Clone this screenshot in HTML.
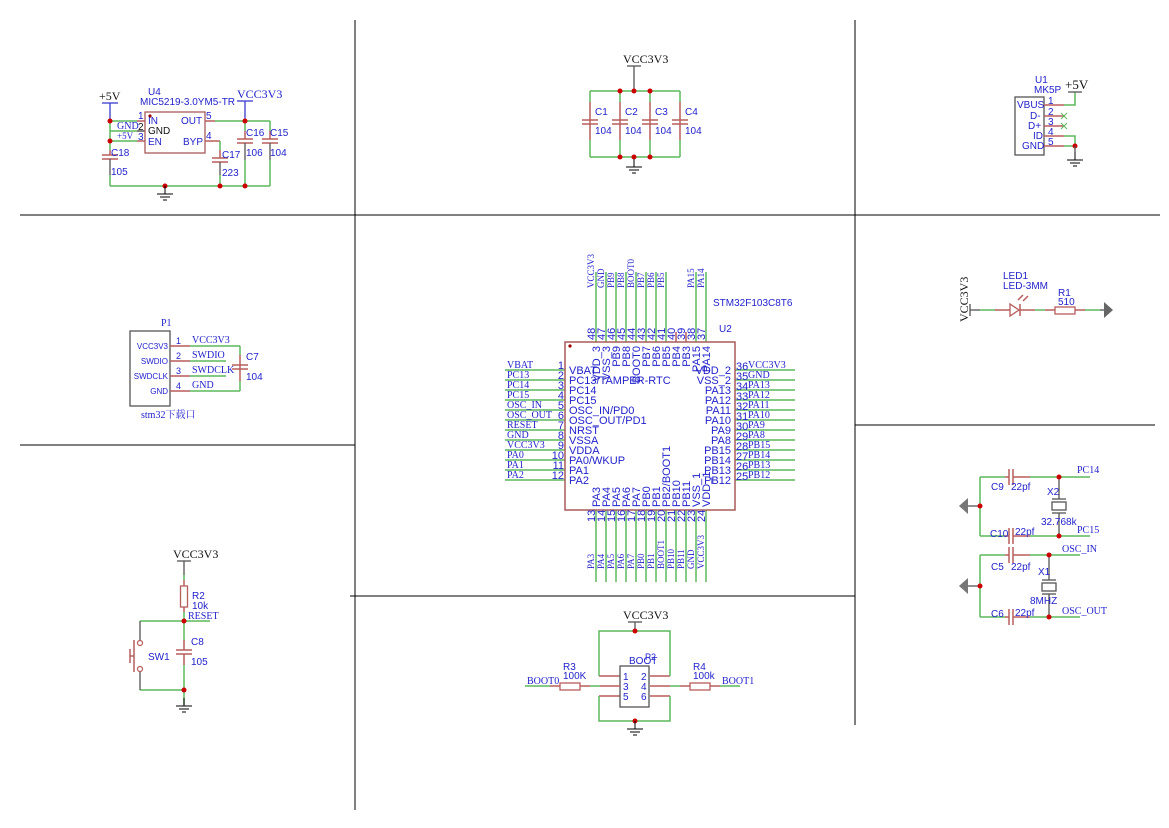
<!DOCTYPE html>
<html><head><meta charset="utf-8"><style>
html,body{margin:0;padding:0;background:#fff}
svg{display:block}
.g{stroke:#5cb85c;stroke-width:1.5;fill:none}
.r{stroke:#b85c5c;stroke-width:1.5;fill:none}
.k{stroke:#000;stroke-width:1;fill:none}
.d{stroke:#555;stroke-width:1.3;fill:none}
.bl{stroke:#3a3ad0;stroke-width:1.3;fill:none}
text{font-family:"Liberation Sans",sans-serif;font-size:10px;fill:#2222cc}
.s{font-family:"Liberation Serif",serif;font-size:10px;fill:#2222cc}
.bk{font-family:"Liberation Serif",serif;font-size:12px;fill:#111}
.n{font-size:11px}
.dot{fill:#cc0000}
</style></head><body>
<svg width="1169" height="828" viewBox="0 0 1169 828" xmlns="http://www.w3.org/2000/svg">
<defs>
<g id="gnd"><line class="k" x1="0" y1="0" x2="0" y2="8" stroke="#555"/><line class="k" x1="-8" y1="8" x2="8" y2="8"/><line class="k" x1="-5" y1="11" x2="5" y2="11"/><line class="k" x1="-2" y1="14" x2="2" y2="14"/></g>
</defs>
<!-- frame -->
<g class="k">
<line x1="355" y1="20" x2="355" y2="810"/>
<line x1="855" y1="20" x2="855" y2="725"/>
<line x1="20" y1="215" x2="1160" y2="215"/>
<line x1="20" y1="445" x2="355" y2="445"/>
<line x1="855" y1="425" x2="1155" y2="425"/>
<line x1="350" y1="596" x2="855" y2="596"/>
</g>

<!-- U4 regulator -->
<text class="bk" x="99" y="100">+5V</text>
<line class="bl" x1="102" y1="103" x2="118" y2="103"/><line class="bl" x1="110" y1="103" x2="110" y2="121"/>
<polyline class="g" points="110,121 110,141"/>
<line class="g" x1="110" y1="121" x2="137" y2="121"/><line class="r" x1="137" y1="121" x2="145" y2="121"/>
<line class="g" x1="110" y1="131" x2="137" y2="131"/><line class="k" x1="137" y1="131" x2="145" y2="131"/>
<line class="g" x1="110" y1="141" x2="137" y2="141"/><line class="r" x1="137" y1="141" x2="145" y2="141"/>
<line class="g" x1="110" y1="141" x2="110" y2="150"/><line class="r" x1="110" y1="150" x2="110" y2="155"/>
<line class="r" x1="102" y1="155" x2="118" y2="155"/><line class="r" x1="102" y1="159" x2="118" y2="159"/>
<line class="d" x1="110" y1="159" x2="110" y2="175"/><line class="g" x1="110" y1="175" x2="110" y2="186"/>
<line class="g" x1="110" y1="186" x2="270" y2="186"/>
<text x="111" y="156">C18</text><text x="111" y="175">105</text>
<text x="117" y="129" class="s">GND</text><text x="117" y="139" class="s" style="font-size:9px">+5V</text>
<text x="138" y="119">1</text><text x="138" y="130" style="fill:#111">2</text><text x="138" y="140">3</text>
<rect x="145" y="112" width="60" height="41" fill="#fff" stroke="#a85a5a" stroke-width="1.3"/>
<circle cx="150" cy="116" r="1.6" fill="#990000"/>
<text x="148" y="95">U4</text><text x="140" y="105">MIC5219-3.0YM5-TR</text>
<text x="148" y="124">IN</text><text x="148" y="134" style="fill:#111">GND</text><text x="148" y="145">EN</text>
<text x="181" y="124">OUT</text><text x="183" y="145">BYP</text>
<text x="206" y="119">5</text><text x="206" y="139">4</text>
<line class="r" x1="205" y1="121" x2="215" y2="121"/><line class="g" x1="215" y1="121" x2="270" y2="121"/>
<line class="r" x1="205" y1="141" x2="220" y2="141"/><line class="g" x1="220" y1="141" x2="220" y2="150"/>
<line class="r" x1="220" y1="150" x2="220" y2="158"/><line class="r" x1="212" y1="158" x2="228" y2="158"/><line class="r" x1="212" y1="162" x2="228" y2="162"/>
<line class="d" x1="220" y1="162" x2="220" y2="175"/><line class="g" x1="220" y1="175" x2="220" y2="186"/>
<text x="222" y="158">C17</text><text x="222" y="176">223</text>
<text class="s" x="237" y="98" style="font-size:12px">VCC3V3</text>
<line class="bl" x1="237" y1="101" x2="253" y2="101"/><line class="bl" x1="245" y1="101" x2="245" y2="121"/>
<line class="g" x1="245" y1="121" x2="245" y2="131"/><line class="r" x1="245" y1="131" x2="245" y2="139"/>
<line class="r" x1="237" y1="139" x2="253" y2="139"/><line class="r" x1="237" y1="143" x2="253" y2="143"/>
<line class="d" x1="245" y1="143" x2="245" y2="160"/><line class="g" x1="245" y1="160" x2="245" y2="186"/>
<line class="g" x1="270" y1="121" x2="270" y2="131"/><line class="r" x1="270" y1="131" x2="270" y2="139"/>
<line class="r" x1="262" y1="139" x2="278" y2="139"/><line class="r" x1="262" y1="143" x2="278" y2="143"/>
<line class="d" x1="270" y1="143" x2="270" y2="160"/><line class="g" x1="270" y1="160" x2="270" y2="186"/>
<text x="246" y="136">C16</text><text x="270" y="136">C15</text><text x="246" y="156">106</text><text x="270" y="156">104</text>
<circle class="dot" cx="110" cy="121" r="2.5"/><circle class="dot" cx="110" cy="141" r="2.5"/><circle class="dot" cx="245" cy="121" r="2.5"/>
<circle class="dot" cx="165" cy="186" r="2.5"/><circle class="dot" cx="220" cy="186" r="2.5"/><circle class="dot" cx="245" cy="186" r="2.5"/>
<use href="#gnd" x="165" y="186"/>

<!-- top caps -->
<text class="bk" x="623" y="63">VCC3V3</text>
<line class="d" x1="627" y1="66" x2="641" y2="66"/><line class="d" x1="634" y1="66" x2="634" y2="91"/>
<line class="g" x1="590" y1="91" x2="680" y2="91"/><line class="g" x1="590" y1="157" x2="680" y2="157"/>
<g>
<line class="g" x1="590" y1="91" x2="590" y2="102"/><line class="r" x1="590" y1="102" x2="590" y2="140"/><line class="g" x1="590" y1="140" x2="590" y2="157"/>
<line class="r" x1="582" y1="120" x2="598" y2="120"/><line class="r" x1="582" y1="124" x2="598" y2="124"/>
<line class="g" x1="620" y1="91" x2="620" y2="102"/><line class="r" x1="620" y1="102" x2="620" y2="140"/><line class="g" x1="620" y1="140" x2="620" y2="157"/>
<line class="r" x1="612" y1="120" x2="628" y2="120"/><line class="r" x1="612" y1="124" x2="628" y2="124"/>
<line class="g" x1="650" y1="91" x2="650" y2="102"/><line class="r" x1="650" y1="102" x2="650" y2="140"/><line class="g" x1="650" y1="140" x2="650" y2="157"/>
<line class="r" x1="642" y1="120" x2="658" y2="120"/><line class="r" x1="642" y1="124" x2="658" y2="124"/>
<line class="g" x1="680" y1="91" x2="680" y2="102"/><line class="r" x1="680" y1="102" x2="680" y2="140"/><line class="g" x1="680" y1="140" x2="680" y2="157"/>
<line class="r" x1="672" y1="120" x2="688" y2="120"/><line class="r" x1="672" y1="124" x2="688" y2="124"/>
</g>
<text x="595" y="115">C1</text><text x="625" y="115">C2</text><text x="655" y="115">C3</text><text x="685" y="115">C4</text>
<text x="595" y="134">104</text><text x="625" y="134">104</text><text x="655" y="134">104</text><text x="685" y="134">104</text>
<circle class="dot" cx="620" cy="91" r="2.5"/><circle class="dot" cx="634" cy="91" r="2.5"/><circle class="dot" cx="650" cy="91" r="2.5"/>
<circle class="dot" cx="620" cy="157" r="2.5"/><circle class="dot" cx="634" cy="157" r="2.5"/><circle class="dot" cx="650" cy="157" r="2.5"/>
<use href="#gnd" x="634" y="159"/>

<!-- USB -->
<text x="1035" y="83">U1</text><text x="1034" y="93">MK5P</text>
<rect x="1015" y="97" width="29" height="58" fill="#fff" stroke="#555" stroke-width="1.3"/>
<text x="1017" y="108">VBUS</text><text x="1030" y="119">D-</text><text x="1028" y="129">D+</text><text x="1033" y="139">ID</text><text x="1022" y="149">GND</text>
<text x="1048" y="104">1</text><text x="1048" y="115">2</text><text x="1048" y="125">3</text><text x="1048" y="135">4</text><text x="1048" y="145">5</text>
<line class="r" x1="1044" y1="105" x2="1064" y2="105"/><polyline class="g" points="1064,105 1075,105 1075,92"/>
<line class="d" x1="1068" y1="92" x2="1082" y2="92"/><text class="bk" x="1065" y="89" style="font-size:13px">+5V</text>
<line class="r" x1="1044" y1="116" x2="1064" y2="116"/><line class="r" x1="1044" y1="126" x2="1064" y2="126"/>
<g stroke="#5cb85c" stroke-width="1"><line x1="1061" y1="113" x2="1067" y2="119"/><line x1="1067" y1="113" x2="1061" y2="119"/><line x1="1061" y1="123" x2="1067" y2="129"/><line x1="1067" y1="123" x2="1061" y2="129"/></g>
<line class="r" x1="1044" y1="136" x2="1064" y2="136"/><polyline class="g" points="1064,136 1075,136 1075,146"/>
<line class="r" x1="1044" y1="146" x2="1064" y2="146"/><line class="g" x1="1064" y1="146" x2="1075" y2="146"/>
<circle class="dot" cx="1075" cy="146" r="2.5"/><use href="#gnd" x="1075" y="152"/><line class="d" x1="1075" y1="146" x2="1075" y2="152"/>

<!-- LED -->
<text class="bk" transform="translate(968,322) rotate(-90)">VCC3V3</text>
<line class="d" x1="970" y1="304" x2="970" y2="316"/><line class="d" x1="970" y1="310" x2="980" y2="310"/>
<line class="g" x1="980" y1="310" x2="995" y2="310"/><line class="r" x1="995" y1="310" x2="1010" y2="310"/>
<polygon points="1010,304 1010,316 1019,310" fill="none" stroke="#b85c5c" stroke-width="1.3"/><line class="r" x1="1020" y1="304" x2="1020" y2="316"/>
<line class="r" x1="1020" y1="310" x2="1035" y2="310"/><line class="g" x1="1035" y1="310" x2="1045" y2="310"/><line class="r" x1="1045" y1="310" x2="1055" y2="310"/>
<rect x="1055" y="307" width="20" height="7" fill="none" stroke="#b85c5c" stroke-width="1.3"/>
<line class="r" x1="1075" y1="310" x2="1085" y2="310"/><line class="g" x1="1085" y1="310" x2="1100" y2="310"/><line class="d" x1="1100" y1="310" x2="1104" y2="310"/>
<polygon points="1104,302 1104,318 1113,310" fill="#666"/>
<line class="r" x1="1018" y1="300" x2="1023" y2="295"/><line class="r" x1="1023" y1="301" x2="1028" y2="296"/>
<text x="1003" y="279">LED1</text><text x="1003" y="289">LED-3MM</text><text x="1058" y="296">R1</text><text x="1058" y="305">510</text>

<!-- Crystals -->
<g>
<line class="g" x1="980" y1="477" x2="1005" y2="477"/><line class="r" x1="1005" y1="477" x2="1009" y2="477"/><line class="r" x1="1013" y1="477" x2="1030" y2="477"/><line class="g" x1="1030" y1="477" x2="1090" y2="477"/>
<line class="r" x1="1009" y1="469" x2="1009" y2="485"/><line class="r" x1="1013" y1="469" x2="1013" y2="485"/>
<line class="g" x1="980" y1="536" x2="1005" y2="536"/><line class="r" x1="1005" y1="536" x2="1009" y2="536"/><line class="r" x1="1013" y1="536" x2="1030" y2="536"/><line class="g" x1="1030" y1="536" x2="1090" y2="536"/>
<line class="r" x1="1009" y1="528" x2="1009" y2="544"/><line class="r" x1="1013" y1="528" x2="1013" y2="544"/>
<line class="g" x1="980" y1="477" x2="980" y2="536"/>
<line class="d" x1="1059" y1="477" x2="1059" y2="499"/><line class="d" x1="1052" y1="499" x2="1066" y2="499"/><rect x="1052" y="502" width="14" height="8" fill="none" stroke="#555" stroke-width="1.3"/><line class="d" x1="1052" y1="513" x2="1066" y2="513"/><line class="d" x1="1059" y1="513" x2="1059" y2="536"/>
<line class="d" x1="968" y1="506" x2="980" y2="506"/><polygon points="968,498 968,514 959,506" fill="#777"/>
<circle class="dot" cx="980" cy="506" r="2.5"/><circle class="dot" cx="1059" cy="477" r="2.5"/><circle class="dot" cx="1059" cy="536" r="2.5"/>
<text class="s" x="1077" y="473">PC14</text><text class="s" x="1077" y="533">PC15</text>
<text x="991" y="490">C9</text><text x="1011" y="490">22pf</text><text x="1047" y="495">X2</text><text x="1041" y="525">32.768k</text><text x="990" y="537">C10</text><text x="1015" y="535">22pf</text>
</g>
<g>
<line class="g" x1="980" y1="555" x2="1005" y2="555"/><line class="r" x1="1005" y1="555" x2="1009" y2="555"/><line class="r" x1="1013" y1="555" x2="1030" y2="555"/><line class="g" x1="1030" y1="555" x2="1080" y2="555"/>
<line class="r" x1="1009" y1="547" x2="1009" y2="563"/><line class="r" x1="1013" y1="547" x2="1013" y2="563"/>
<line class="g" x1="980" y1="617" x2="1005" y2="617"/><line class="r" x1="1005" y1="617" x2="1009" y2="617"/><line class="r" x1="1013" y1="617" x2="1030" y2="617"/><line class="g" x1="1030" y1="617" x2="1080" y2="617"/>
<line class="r" x1="1009" y1="609" x2="1009" y2="625"/><line class="r" x1="1013" y1="609" x2="1013" y2="625"/>
<line class="g" x1="980" y1="555" x2="980" y2="617"/>
<line class="d" x1="1049" y1="555" x2="1049" y2="580"/><line class="d" x1="1042" y1="580" x2="1056" y2="580"/><rect x="1042" y="583" width="14" height="8" fill="none" stroke="#555" stroke-width="1.3"/><line class="d" x1="1042" y1="594" x2="1056" y2="594"/><line class="d" x1="1049" y1="594" x2="1049" y2="617"/>
<line class="d" x1="968" y1="586" x2="980" y2="586"/><polygon points="968,578 968,594 959,586" fill="#777"/>
<circle class="dot" cx="980" cy="586" r="2.5"/><circle class="dot" cx="1049" cy="555" r="2.5"/><circle class="dot" cx="1049" cy="617" r="2.5"/>
<text class="s" x="1062" y="552">OSC_IN</text><text class="s" x="1062" y="614">OSC_OUT</text>
<text x="991" y="570">C5</text><text x="1011" y="570">22pf</text><text x="1038" y="575">X1</text><text x="1030" y="604">8MHZ</text><text x="991" y="617">C6</text><text x="1015" y="616">22pf</text>
</g>

<!-- BOOT -->
<text class="bk" x="623" y="619">VCC3V3</text>
<line class="d" x1="628" y1="622" x2="642" y2="622"/><line class="d" x1="635" y1="622" x2="635" y2="631"/>
<polyline class="g" points="599,669 599,631 670,631 670,669"/>
<line class="r" x1="599" y1="676" x2="620" y2="676"/><line class="r" x1="650" y1="676" x2="670" y2="676"/>
<line class="g" x1="599" y1="669" x2="599" y2="676"/><line class="g" x1="670" y1="669" x2="670" y2="676"/>
<line class="r" x1="599" y1="696" x2="620" y2="696"/><line class="r" x1="650" y1="696" x2="670" y2="696"/>
<polyline class="g" points="599,696 599,721 670,721 670,696"/>
<circle class="dot" cx="635" cy="631" r="2.5"/><circle class="dot" cx="635" cy="721" r="2.5"/>
<use href="#gnd" x="635" y="721"/>
<rect x="620" y="666" width="29" height="41" fill="#fff" stroke="#555" stroke-width="1.3"/>
<text x="629" y="664">BOOT</text><text x="645" y="660" style="font-size:9px">P2</text>
<text x="623" y="680">1</text><text x="641" y="680">2</text><text x="623" y="690">3</text><text x="641" y="690">4</text><text x="623" y="700">5</text><text x="641" y="700">6</text>
<line class="g" x1="525" y1="686" x2="550" y2="686"/><line class="r" x1="550" y1="686" x2="560" y2="686"/>
<rect x="560" y="683" width="20" height="7" fill="none" stroke="#b85c5c" stroke-width="1.3"/>
<line class="r" x1="580" y1="686" x2="590" y2="686"/><line class="g" x1="590" y1="686" x2="600" y2="686"/><line class="r" x1="600" y1="686" x2="620" y2="686"/>
<line class="r" x1="650" y1="686" x2="670" y2="686"/><line class="g" x1="670" y1="686" x2="680" y2="686"/><line class="r" x1="680" y1="686" x2="690" y2="686"/>
<rect x="690" y="683" width="20" height="7" fill="none" stroke="#b85c5c" stroke-width="1.3"/>
<line class="r" x1="710" y1="686" x2="720" y2="686"/><line class="g" x1="720" y1="686" x2="740" y2="686"/>
<text x="563" y="670">R3</text><text x="563" y="679">100K</text><text x="693" y="670">R4</text><text x="693" y="679">100k</text>
<text class="s" x="527" y="684">BOOT0</text><text class="s" x="722" y="684">BOOT1</text>

<!-- P1 -->
<text class="s" x="161" y="326">P1</text>
<rect x="130" y="331" width="40" height="75" fill="#fff" stroke="#555" stroke-width="1.3"/>
<g style="font-size:8px"><text x="168" y="349" text-anchor="end" style="font-size:8px">VCC3V3</text><text x="168" y="364" text-anchor="end" style="font-size:8px">SWDIO</text><text x="168" y="379" text-anchor="end" style="font-size:8px">SWDCLK</text><text x="168" y="394" text-anchor="end" style="font-size:8px">GND</text></g>
<text x="176" y="344" style="font-size:9px">1</text><text x="176" y="359" style="font-size:9px">2</text><text x="176" y="374" style="font-size:9px">3</text><text x="176" y="389" style="font-size:9px">4</text>
<line class="r" x1="170" y1="346" x2="190" y2="346"/><line class="g" x1="190" y1="346" x2="240" y2="346"/>
<line class="r" x1="170" y1="361" x2="190" y2="361"/><line class="g" x1="190" y1="361" x2="226" y2="361"/>
<line class="r" x1="170" y1="376" x2="190" y2="376"/><line class="g" x1="190" y1="376" x2="226" y2="376"/>
<line class="r" x1="170" y1="391" x2="190" y2="391"/><line class="g" x1="190" y1="391" x2="240" y2="391"/>
<line class="g" x1="240" y1="346" x2="240" y2="355"/><line class="r" x1="240" y1="355" x2="240" y2="381"/><line class="g" x1="240" y1="381" x2="240" y2="391"/>
<line class="r" x1="232" y1="365" x2="248" y2="365"/><line class="r" x1="232" y1="369" x2="248" y2="369"/>
<text class="s" x="192" y="343">VCC3V3</text><text class="s" x="192" y="358">SWDIO</text><text class="s" x="192" y="373">SWDCLK</text><text class="s" x="192" y="388">GND</text>
<text x="246" y="360">C7</text><text x="246" y="380">104</text>
<text x="141" y="418" style="font-family:'Liberation Serif','Noto Serif CJK SC',serif;font-size:10px">stm32下载口</text>

<!-- Reset -->
<text class="bk" x="173" y="558">VCC3V3</text>
<line class="d" x1="177" y1="561" x2="191" y2="561"/><line class="d" x1="184" y1="561" x2="184" y2="575"/>
<line class="g" x1="184" y1="575" x2="184" y2="580"/><line class="r" x1="184" y1="580" x2="184" y2="586"/>
<rect x="180.5" y="586" width="7" height="21" fill="none" stroke="#b85c5c" stroke-width="1.3"/>
<line class="r" x1="184" y1="607" x2="184" y2="612"/><line class="g" x1="184" y1="612" x2="184" y2="640"/>
<line class="r" x1="184" y1="640" x2="184" y2="650"/>
<line class="r" x1="176" y1="650" x2="192" y2="650"/><line class="r" x1="176" y1="654" x2="192" y2="654"/>
<line class="r" x1="184" y1="654" x2="184" y2="665"/><line class="g" x1="184" y1="665" x2="184" y2="705"/>
<line class="g" x1="140" y1="621" x2="210" y2="621"/><line class="g" x1="140" y1="690" x2="184" y2="690"/>
<line class="d" x1="140" y1="621" x2="140" y2="640"/><line class="d" x1="140" y1="672" x2="140" y2="690"/>
<circle cx="140" cy="643" r="2.5" fill="none" stroke="#b85c5c" stroke-width="1.2"/><circle cx="140" cy="669" r="2.5" fill="none" stroke="#b85c5c" stroke-width="1.2"/>
<line class="r" x1="134" y1="640" x2="134" y2="672"/><line class="r" x1="130" y1="649" x2="130" y2="663"/><line class="r" x1="130" y1="656" x2="134" y2="656"/>
<circle class="dot" cx="184" cy="621" r="2.5"/><circle class="dot" cx="184" cy="690" r="2.5"/>
<use href="#gnd" x="184" y="698"/>
<text x="192" y="599">R2</text><text x="192" y="609">10k</text><text class="s" x="188" y="619">RESET</text>
<text x="191" y="645">C8</text><text x="191" y="665">105</text><text x="148" y="660">SW1</text>

<!-- STM32 -->
<text x="713" y="306">STM32F103C8T6</text><text x="719" y="332">U2</text>
<g>
<g class="g">
<line x1="505" y1="370" x2="565" y2="370"/><line x1="505" y1="380" x2="565" y2="380"/><line x1="505" y1="390" x2="565" y2="390"/><line x1="505" y1="400" x2="565" y2="400"/><line x1="505" y1="410" x2="565" y2="410"/><line x1="505" y1="420" x2="565" y2="420"/><line x1="505" y1="430" x2="565" y2="430"/><line x1="505" y1="440" x2="565" y2="440"/><line x1="505" y1="450" x2="565" y2="450"/><line x1="505" y1="460" x2="565" y2="460"/><line x1="505" y1="470" x2="565" y2="470"/><line x1="505" y1="480" x2="565" y2="480"/>
<line x1="735" y1="370" x2="795" y2="370"/><line x1="735" y1="380" x2="795" y2="380"/><line x1="735" y1="390" x2="795" y2="390"/><line x1="735" y1="400" x2="795" y2="400"/><line x1="735" y1="410" x2="795" y2="410"/><line x1="735" y1="420" x2="795" y2="420"/><line x1="735" y1="430" x2="795" y2="430"/><line x1="735" y1="440" x2="795" y2="440"/><line x1="735" y1="450" x2="795" y2="450"/><line x1="735" y1="460" x2="795" y2="460"/><line x1="735" y1="470" x2="795" y2="470"/><line x1="735" y1="480" x2="795" y2="480"/>
<line x1="596" y1="272" x2="596" y2="342"/><line x1="606" y1="272" x2="606" y2="342"/><line x1="616" y1="272" x2="616" y2="342"/><line x1="626" y1="272" x2="626" y2="342"/><line x1="636" y1="272" x2="636" y2="342"/><line x1="646" y1="272" x2="646" y2="342"/><line x1="656" y1="272" x2="656" y2="342"/><line x1="666" y1="272" x2="666" y2="342"/>
<line x1="696" y1="272" x2="696" y2="342"/><line x1="706" y1="272" x2="706" y2="342"/>
<line x1="596" y1="510" x2="596" y2="582"/><line x1="606" y1="510" x2="606" y2="582"/><line x1="616" y1="510" x2="616" y2="582"/><line x1="626" y1="510" x2="626" y2="582"/><line x1="636" y1="510" x2="636" y2="582"/><line x1="646" y1="510" x2="646" y2="582"/><line x1="656" y1="510" x2="656" y2="582"/><line x1="666" y1="510" x2="666" y2="582"/><line x1="676" y1="510" x2="676" y2="582"/><line x1="686" y1="510" x2="686" y2="582"/><line x1="696" y1="510" x2="696" y2="582"/><line x1="706" y1="510" x2="706" y2="582"/>
</g>
<g class="r"><line x1="676" y1="332" x2="676" y2="342"/><line x1="686" y1="332" x2="686" y2="342"/></g>
<rect x="565" y="342" width="170" height="168" fill="#fff" stroke="#a85a5a" stroke-width="1.5"/>
<circle cx="570" cy="346" r="1.6" fill="#990000"/>
<g class="s">
<text class="s" x="507" y="368">VBAT</text><text class="s" x="507" y="378">PC13</text><text class="s" x="507" y="388">PC14</text><text class="s" x="507" y="398">PC15</text><text class="s" x="507" y="408">OSC_IN</text><text class="s" x="507" y="418">OSC_OUT</text><text class="s" x="507" y="428">RESET</text><text class="s" x="507" y="438">GND</text><text class="s" x="507" y="448">VCC3V3</text><text class="s" x="507" y="458">PA0</text><text class="s" x="507" y="468">PA1</text><text class="s" x="507" y="478">PA2</text>
<text class="s" x="748" y="368">VCC3V3</text><text class="s" x="748" y="378">GND</text><text class="s" x="748" y="388">PA13</text><text class="s" x="748" y="398">PA12</text><text class="s" x="748" y="408">PA11</text><text class="s" x="748" y="418">PA10</text><text class="s" x="748" y="428">PA9</text><text class="s" x="748" y="438">PA8</text><text class="s" x="748" y="448">PB15</text><text class="s" x="748" y="458">PB14</text><text class="s" x="748" y="468">PB13</text><text class="s" x="748" y="478">PB12</text>
</g>
<g class="n" text-anchor="end">
<text x="564" y="369" class="n">1</text><text x="564" y="379" class="n">2</text><text x="564" y="389" class="n">3</text><text x="564" y="399" class="n">4</text><text x="564" y="409" class="n">5</text><text x="564" y="419" class="n">6</text><text x="564" y="429" class="n">7</text><text x="564" y="439" class="n">8</text><text x="564" y="449" class="n">9</text><text x="564" y="459" class="n">10</text><text x="564" y="469" class="n">11</text><text x="564" y="479" class="n">12</text>
</g>
<text x="736" y="370" class="n">36</text><text x="736" y="380" class="n">35</text><text x="736" y="390" class="n">34</text><text x="736" y="400" class="n">33</text><text x="736" y="410" class="n">32</text><text x="736" y="420" class="n">31</text><text x="736" y="430" class="n">30</text><text x="736" y="440" class="n">29</text><text x="736" y="450" class="n">28</text><text x="736" y="460" class="n">27</text><text x="736" y="470" class="n">26</text><text x="736" y="480" class="n">25</text>
<text x="569" y="374" class="n">VBAT</text><text x="569" y="384" class="n">PC13/TAMPER-RTC</text><text x="569" y="394" class="n">PC14</text><text x="569" y="404" class="n">PC15</text><text x="569" y="414" class="n">OSC_IN/PD0</text><text x="569" y="424" class="n">OSC_OUT/PD1</text><text x="569" y="434" class="n">NRST</text><text x="569" y="444" class="n">VSSA</text><text x="569" y="454" class="n">VDDA</text><text x="569" y="464" class="n">PA0/WKUP</text><text x="569" y="474" class="n">PA1</text><text x="569" y="484" class="n">PA2</text>
<g text-anchor="end">
<text x="731" y="374" class="n">VDD_2</text><text x="731" y="384" class="n">VSS_2</text><text x="731" y="394" class="n">PA13</text><text x="731" y="404" class="n">PA12</text><text x="731" y="414" class="n">PA11</text><text x="731" y="424" class="n">PA10</text><text x="731" y="434" class="n">PA9</text><text x="731" y="444" class="n">PA8</text><text x="731" y="454" class="n">PB15</text><text x="731" y="464" class="n">PB14</text><text x="731" y="474" class="n">PB13</text><text x="731" y="484" class="n">PB12</text>
</g>
<g class="s">
<text class="s" style="font-size:9px" transform="translate(594,288) rotate(-90)">VCC3V3</text><text class="s" style="font-size:9px" transform="translate(604,288) rotate(-90)">GND</text><text class="s" style="font-size:9px" transform="translate(614,288) rotate(-90)">PB9</text><text class="s" style="font-size:9px" transform="translate(624,288) rotate(-90)">PB8</text><text class="s" style="font-size:9px" transform="translate(634,288) rotate(-90)">BOOT0</text><text class="s" style="font-size:9px" transform="translate(644,288) rotate(-90)">PB7</text><text class="s" style="font-size:9px" transform="translate(654,288) rotate(-90)">PB6</text><text class="s" style="font-size:9px" transform="translate(664,288) rotate(-90)">PB5</text><text class="s" style="font-size:9px" transform="translate(694,288) rotate(-90)">PA15</text><text class="s" style="font-size:9px" transform="translate(704,288) rotate(-90)">PA14</text>
</g>
<text class="n" transform="translate(595,340) rotate(-90)">48</text><text class="n" transform="translate(605,340) rotate(-90)">47</text><text class="n" transform="translate(615,340) rotate(-90)">46</text><text class="n" transform="translate(625,340) rotate(-90)">45</text><text class="n" transform="translate(635,340) rotate(-90)">44</text><text class="n" transform="translate(645,340) rotate(-90)">43</text><text class="n" transform="translate(655,340) rotate(-90)">42</text><text class="n" transform="translate(665,340) rotate(-90)">41</text><text class="n" transform="translate(675,340) rotate(-90)">40</text><text class="n" transform="translate(685,340) rotate(-90)">39</text><text class="n" transform="translate(695,340) rotate(-90)">38</text><text class="n" transform="translate(705,340) rotate(-90)">37</text>
<g text-anchor="end">
<text class="n" transform="translate(600,346) rotate(-90)">VDD_3</text><text class="n" transform="translate(610,346) rotate(-90)">VSS_3</text><text class="n" transform="translate(620,346) rotate(-90)">PB9</text><text class="n" transform="translate(630,346) rotate(-90)">PB8</text><text class="n" transform="translate(640,346) rotate(-90)">BOOT0</text><text class="n" transform="translate(650,346) rotate(-90)">PB7</text><text class="n" transform="translate(660,346) rotate(-90)">PB6</text><text class="n" transform="translate(670,346) rotate(-90)">PB5</text><text class="n" transform="translate(680,346) rotate(-90)">PB4</text><text class="n" transform="translate(690,346) rotate(-90)">PB3</text><text class="n" transform="translate(700,346) rotate(-90)">PA15</text><text class="n" transform="translate(710,346) rotate(-90)">PA14</text>
</g>
<text class="n" transform="translate(600,507) rotate(-90)">PA3</text><text class="n" transform="translate(610,507) rotate(-90)">PA4</text><text class="n" transform="translate(620,507) rotate(-90)">PA5</text><text class="n" transform="translate(630,507) rotate(-90)">PA6</text><text class="n" transform="translate(640,507) rotate(-90)">PA7</text><text class="n" transform="translate(650,507) rotate(-90)">PB0</text><text class="n" transform="translate(660,507) rotate(-90)">PB1</text><text class="n" transform="translate(670,507) rotate(-90)">PB2/BOOT1</text><text class="n" transform="translate(680,507) rotate(-90)">PB10</text><text class="n" transform="translate(690,507) rotate(-90)">PB11</text><text class="n" transform="translate(700,507) rotate(-90)">VSS_1</text><text class="n" transform="translate(710,507) rotate(-90)">VDD_1</text>
<text class="n" transform="translate(595,522) rotate(-90)">13</text><text class="n" transform="translate(605,522) rotate(-90)">14</text><text class="n" transform="translate(615,522) rotate(-90)">15</text><text class="n" transform="translate(625,522) rotate(-90)">16</text><text class="n" transform="translate(635,522) rotate(-90)">17</text><text class="n" transform="translate(645,522) rotate(-90)">18</text><text class="n" transform="translate(655,522) rotate(-90)">19</text><text class="n" transform="translate(665,522) rotate(-90)">20</text><text class="n" transform="translate(675,522) rotate(-90)">21</text><text class="n" transform="translate(685,522) rotate(-90)">22</text><text class="n" transform="translate(695,522) rotate(-90)">23</text><text class="n" transform="translate(705,522) rotate(-90)">24</text>
<g>
<text class="s" style="font-size:9px" transform="translate(594,569) rotate(-90)">PA3</text><text class="s" style="font-size:9px" transform="translate(604,569) rotate(-90)">PA4</text><text class="s" style="font-size:9px" transform="translate(614,569) rotate(-90)">PA5</text><text class="s" style="font-size:9px" transform="translate(624,569) rotate(-90)">PA6</text><text class="s" style="font-size:9px" transform="translate(634,569) rotate(-90)">PA7</text><text class="s" style="font-size:9px" transform="translate(644,569) rotate(-90)">PB0</text><text class="s" style="font-size:9px" transform="translate(654,569) rotate(-90)">PB1</text><text class="s" style="font-size:9px" transform="translate(664,569) rotate(-90)">BOOT1</text><text class="s" style="font-size:9px" transform="translate(674,569) rotate(-90)">PB10</text><text class="s" style="font-size:9px" transform="translate(684,569) rotate(-90)">PB11</text><text class="s" style="font-size:9px" transform="translate(694,569) rotate(-90)">GND</text><text class="s" style="font-size:9px" transform="translate(704,569) rotate(-90)">VCC3V3</text>
</g>
</g>
</svg>
</body></html>
